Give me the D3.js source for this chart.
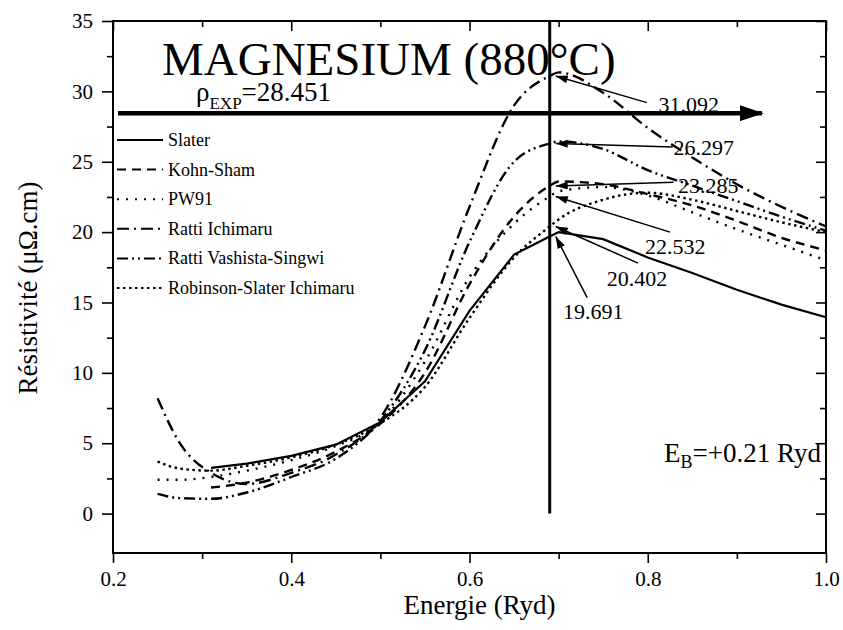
<!DOCTYPE html>
<html lang="fr">
<head>
<meta charset="utf-8">
<title>Magnesium (880°C)</title>
<script src="https://cdnjs.cloudflare.com/ajax/libs/d3/7.8.5/d3.min.js"></script>
<style>
  body { margin: 0; background: #fff; }
</style>
</head>
<body>
<div id="chart"></div>
<script>

// energies (Ryd) shared by all curves
var energy = [0.25, 0.275, 0.31, 0.35, 0.40, 0.45, 0.50, 0.55, 0.60, 0.65, 0.69, 0.70, 0.75, 0.80, 0.85, 0.90, 0.95, 1.00];

// resistivity (µΩ.cm)
var slater    = [null, null, 3.25, 3.55, 4.1, 4.9, 6.5, 9.4, 14.4, 18.4, 19.691, 20.0, 19.5, 18.2, 17.1, 15.9, 14.85, 13.95];
var kohnSham  = [null, null, 1.85, 2.2, 3.1, 4.4, 6.4, 10.0, 16.3, 21.1, 23.285, 23.6, 23.4, 22.7, 21.9, 20.8, 19.6, 18.7];
var pw91      = [2.4, 2.4, 2.6, 3.05, 3.8, 4.8, 6.5, 10.8, 16.8, 20.6, 22.532, 22.9, 23.2, 22.6, 21.4, 20.2, 19.1, 18.0];
var rattiIchi = [8.2, 5.0, 2.9, 2.1, 2.9, 4.2, 6.8, 13.3, 21.8, 29.0, 31.092, 31.35, 29.9, 27.4, 25.3, 23.4, 21.8, 20.4];
var rattiVS   = [1.4, 1.1, 1.05, 1.5, 2.6, 3.9, 6.6, 11.6, 19.3, 25.0, 26.297, 26.45, 25.9, 24.4, 23.3, 22.2, 21.1, 20.1];
var robSlater = [3.7, 3.2, 3.05, 3.4, 4.0, 4.9, 6.4, 9.0, 13.9, 18.2, 20.402, 20.9, 22.3, 22.8, 22.3, 21.5, 20.7, 20.0];

var seriesNames = ["Slater", "Kohn-Sham", "PW91", "Ratti Ichimaru", "Ratti Vashista-Singwi", "Robinson-Slater Ichimaru"];
var seriesValues = [slater, kohnSham, pw91, rattiIchi, rattiVS, robSlater];

// values printed at the Fermi energy
var peakLabels = ["31.092", "26.297", "23.285", "22.532", "20.402", "19.691"];
var peakValues = [31.092, 26.297, 23.285, 22.532, 20.402, 19.691];

var rhoExp = 28.451;
var eFermi = 0.69;

var xMajor = [0.2, 0.4, 0.6, 0.8, 1.0];
var xMinor = [0.3, 0.5, 0.7, 0.9];
var yMajor = [0, 5, 10, 15, 20, 25, 30, 35];
var yMinor = [2.5, 7.5, 12.5, 17.5, 22.5, 27.5, 32.5];

var width = 843, height = 630;
var margin = {top: 21, right: 17, bottom: 77, left: 113};

// line styles, same order as seriesNames
var dashes = ["none", "9,6", "2,7", "12,5,2,5", "11,4,2,4,2,4", "2.5,3.5"];

var svg = d3.select("#chart").append("svg")
  .attr("width", width)
  .attr("height", height);

var x = d3.scaleLinear().domain([0.2, 1.0]).range([margin.left, width - margin.right]);
var y = d3.scaleLinear().domain([-2.8, 35]).range([height - margin.bottom, margin.top]);

var defs = svg.append("defs");
defs.append("marker")
  .attr("id", "head")
  .attr("markerUnits", "userSpaceOnUse")
  .attr("viewBox", "0 0 12 8")
  .attr("refX", 12).attr("refY", 4)
  .attr("markerWidth", 13).attr("markerHeight", 8)
  .attr("orient", "auto")
  .append("path").attr("d", "M0,0 L12,4 L0,8 Z").attr("fill", "#000");
defs.append("marker")
  .attr("id", "bighead")
  .attr("markerUnits", "userSpaceOnUse")
  .attr("viewBox", "0 0 24 16")
  .attr("refX", 22).attr("refY", 8)
  .attr("markerWidth", 24).attr("markerHeight", 16)
  .attr("orient", "auto")
  .append("path").attr("d", "M0,0 L24,8 L0,16 Z").attr("fill", "#000");

// axes: outward ticks on bottom/left, inward on top/right
function tickLines(axis, size) {
  return axis.tickSize(size).tickFormat("");
}
var bottomY = height - margin.bottom, rightX = width - margin.right;

svg.append("g").attr("transform", "translate(0," + bottomY + ")")
  .call(tickLines(d3.axisBottom(x).tickValues(xMinor), 6));
svg.append("g").attr("transform", "translate(0," + bottomY + ")")
  .attr("class", "xlab")
  .call(d3.axisBottom(x).tickValues(xMajor).tickSize(10).tickPadding(8).tickFormat(d3.format(".1f")));
svg.append("g").attr("transform", "translate(0," + margin.top + ")")
  .call(tickLines(d3.axisTop(x).tickValues(xMinor), -6));
svg.append("g").attr("transform", "translate(0," + margin.top + ")")
  .call(tickLines(d3.axisTop(x).tickValues(xMajor), -10));

svg.append("g").attr("transform", "translate(" + margin.left + ",0)")
  .call(tickLines(d3.axisLeft(y).tickValues(yMinor), 6));
svg.append("g").attr("transform", "translate(" + margin.left + ",0)")
  .attr("class", "ylab")
  .call(d3.axisLeft(y).tickValues(yMajor).tickSize(11).tickPadding(9));
svg.append("g").attr("transform", "translate(" + rightX + ",0)")
  .call(tickLines(d3.axisRight(y).tickValues(yMinor), -6));
svg.append("g").attr("transform", "translate(" + rightX + ",0)")
  .call(tickLines(d3.axisRight(y).tickValues(yMajor), -10));

svg.selectAll(".domain").remove();
svg.selectAll("g").attr("font-family", null);
svg.selectAll(".tick line").attr("stroke", "#000").attr("stroke-width", 1.6);
svg.selectAll(".xlab text, .ylab text").attr("font-size", 21);

svg.append("rect")
  .attr("x", margin.left).attr("y", margin.top)
  .attr("width", rightX - margin.left).attr("height", bottomY - margin.top)
  .attr("fill", "none").attr("stroke", "#000").attr("stroke-width", 2);

// axis titles
svg.append("text")
  .attr("x", (margin.left + rightX) / 2 + 10).attr("y", 614)
  .attr("text-anchor", "middle").attr("font-size", 27)
  .text("Energie (Ryd)");
svg.append("text")
  .attr("transform", "translate(37," + 288 + ") rotate(-90)")
  .attr("text-anchor", "middle").attr("font-size", 27)
  .text("Résistivité (μΩ.cm)");

// curves
var line = d3.line()
  .defined(function(d) { return d[1] != null; })
  .x(function(d) { return x(d[0]); })
  .y(function(d) { return y(d[1]); });

seriesValues.forEach(function(vals, i) {
  var pts = energy.map(function(e, j) { return [e, vals[j]]; });
  svg.append("path")
    .datum(pts)
    .attr("fill", "none")
    .attr("stroke", "#000")
    .attr("stroke-width", i == 0 ? 2.2 : 2.4)
    .attr("stroke-dasharray", dashes[i])
    .attr("d", line.curve(i == 0 ? d3.curveLinear : d3.curveMonotoneX));
});

// legend
var legend = svg.append("g");
seriesNames.forEach(function(name, i) {
  var ly = 140 + i * 29.6;
  legend.append("line")
    .attr("x1", 117).attr("x2", 163)
    .attr("y1", ly).attr("y2", ly)
    .attr("stroke", "#000").attr("stroke-width", 2)
    .attr("stroke-dasharray", dashes[i]);
  legend.append("text")
    .attr("x", 168).attr("y", ly + 6)
    .attr("font-size", 18)
    .text(name);
});

// title
svg.append("text")
  .attr("x", 162).attr("y", 75)
  .attr("font-size", 47)
  .text("MAGNESIUM (880°C)");

// Fermi energy marker
svg.append("line")
  .attr("x1", x(eFermi)).attr("x2", x(eFermi))
  .attr("y1", y(35)).attr("y2", y(0))
  .attr("stroke", "#000").attr("stroke-width", 3);

// labels for the values at E = 0.69, anchored in data units
var labelAt = [
  {e: 0.812, v: 28.5, te: 0.799, tv: 29.2},
  {e: 0.829, v: 25.45, te: 0.828, tv: 26.05},
  {e: 0.834, v: 22.8, te: 0.829, tv: 23.55},
  {e: 0.797, v: 18.45, te: 0.825, tv: 20.0},
  {e: 0.754, v: 16.2, te: 0.789, tv: 17.8},
  {e: 0.705, v: 13.85, te: 0.732, tv: 15.35}
];
peakValues.forEach(function(v, i) {
  var a = labelAt[i];
  svg.append("text")
    .attr("x", x(a.e)).attr("y", y(a.v))
    .attr("font-size", 22)
    .text(peakLabels[i]);
  svg.append("line")
    .attr("x1", x(a.te)).attr("y1", y(a.tv))
    .attr("x2", x(eFermi) + 6).attr("y2", y(v))
    .attr("stroke", "#000").attr("stroke-width", 1.5)
    .attr("marker-end", "url(#head)");
});

// experimental resistivity
var rho = svg.append("text")
  .attr("x", 196).attr("y", 101)
  .attr("font-size", 27);
rho.append("tspan").text("ρ");
rho.append("tspan").attr("font-size", 17).attr("dy", 8).text("EXP");
rho.append("tspan").attr("dy", -8).text("=28.451");

svg.append("line")
  .attr("x1", x(0.2056)).attr("x2", x(0.928))
  .attr("y1", y(rhoExp)).attr("y2", y(rhoExp))
  .attr("stroke", "#000").attr("stroke-width", 4.5)
  .attr("marker-end", "url(#bighead)");

// band energy
var eb = svg.append("text")
  .attr("x", 664).attr("y", 462)
  .attr("font-size", 27);
eb.append("tspan").text("E");
eb.append("tspan").attr("font-size", 18).attr("dy", 6).text("B");
eb.append("tspan").attr("dy", -6).text("=+0.21 Ryd");

// every label in the serif face, set inline
svg.selectAll("text, tspan")
  .attr("font-family", "Liberation Serif")
  .style("font-family", "Liberation Serif")
  .attr("fill", "#000");

</script>
</body>
</html>
